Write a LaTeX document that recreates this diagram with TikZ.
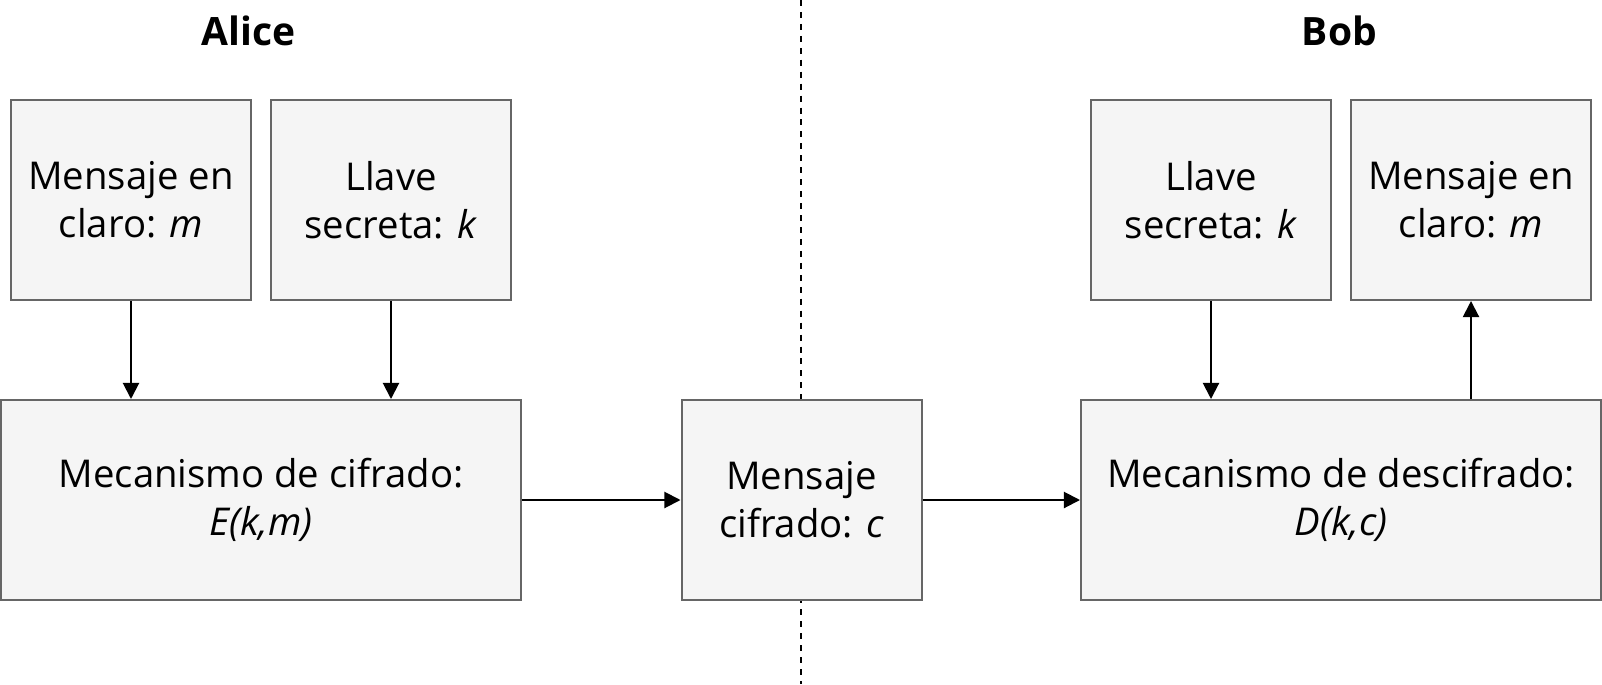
\documentclass[tikz,border=0pt]{standalone}
\usepackage{fontspec}
\setmainfont{Open Sans}
\usepackage{tikz}
\usetikzlibrary{positioning, shapes, arrows, arrows.meta}
\definecolor{boxfill}{HTML}{F5F5F5}
\definecolor{boxline}{HTML}{666666}

\begin{document}
\begin{tikzpicture}[-,>={Triangle[length=4.6pt,width=4.6pt]},line width=0.57pt,
        block/.style={rectangle,draw=boxline,fill=boxfill,align=center,minimum height=2cm,inner sep=0pt,font=\fontsize{10.9}{13.6}\selectfont},
        small/.style={block,minimum width=2.4cm},
        wide/.style={block,minimum width=5.2cm},
        party/.style={anchor=base,font=\fontsize{11.1}{13.6}\selectfont\bfseries}]
        \useasboundingbox (0,0) rectangle (16.02,-6.84);

        \draw[dash pattern=on 1.7pt off 1.7pt] (8.01,0) -- (8.01,-6.84);

        \node at (2.485,-0.45) [party] (alice) {Alice};
        \node at (13.395,-0.45) [party] (bob) {Bob};

        \node at (1.31,-2.0) [small] (msgA) {Mensaje en\\claro: \textit{m}};
        \node at (3.91,-2.0) [small] (keyA) {Llave\\secreta: \textit{k}};
        \node at (2.61,-5.0) [wide] (enc) {Mecanismo de cifrado:\\\textit{E(k,m)}};

        \node at (8.015,-5.0) [small] (ctext) {Mensaje\\cifrado: \textit{c}};

        \node at (12.11,-2.0) [small] (keyB) {Llave\\secreta: \textit{k}};
        \node at (14.71,-2.0) [small] (msgB) {Mensaje en\\claro: \textit{m}};
        \node at (13.41,-5.0) [wide] (dec) {Mecanismo de descifrado:\\\textit{D(k,c)}};

        \draw[->]  (msgA.south) -- (msgA.south |- enc.north);
        \draw[->]  (keyA.south) -- (keyA.south |- enc.north);
        \draw[->]  (enc.east)   -- (ctext.west);
        \draw[->]  (ctext.east) -- (dec.west);
        \draw[->]  (keyB.south) -- (keyB.south |- dec.north);
        \draw[->]  (msgB.south |- dec.north) -- (msgB.south);
    \end{tikzpicture}
\end{document}
